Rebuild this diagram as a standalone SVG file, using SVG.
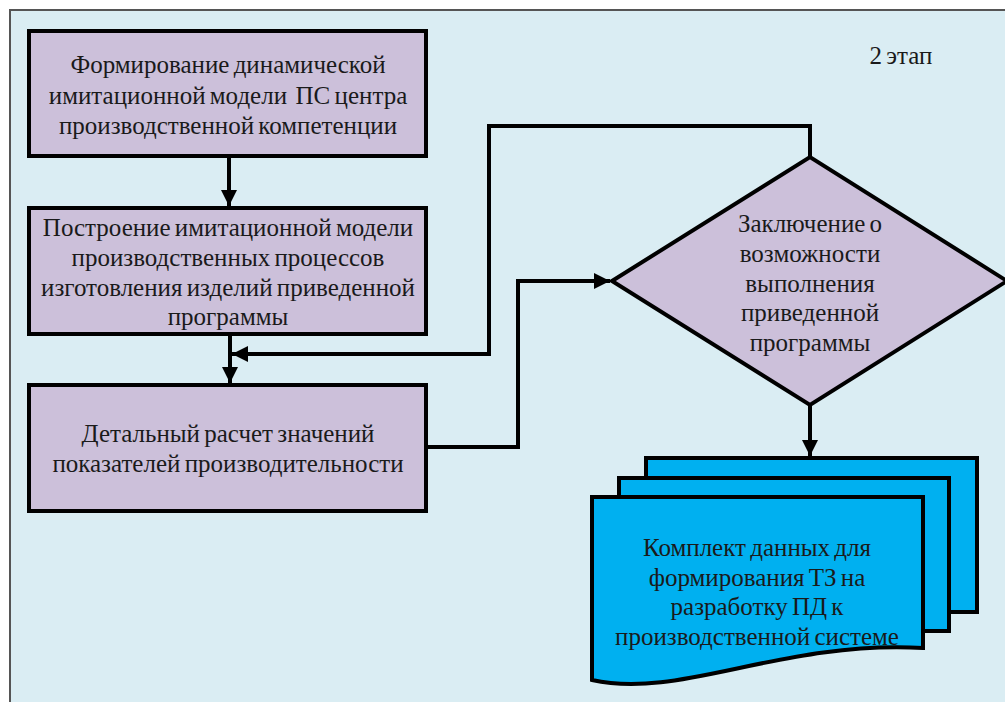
<svg xmlns="http://www.w3.org/2000/svg" width="1005" height="702" viewBox="0 0 1005 702">
<style>
.box{fill:#CCC0DA;stroke:#000;stroke-width:4}
.doc{fill:#00B0F0;stroke:#000;stroke-width:4;stroke-linejoin:miter}
.t{font-family:'Liberation Serif',serif;font-size:25px;fill:#1a1a1a;text-anchor:middle;word-spacing:-2px}
.c{fill:none;stroke:#000;stroke-width:4}
</style>
<defs>
<marker id="ah" viewBox="0 0 10 10" refX="10" refY="5" markerWidth="4" markerHeight="4" orient="auto" markerUnits="strokeWidth">
<path d="M0,0 L10,5 L0,10 z" fill="#000"/>
</marker>
</defs>
<rect x="0" y="0" width="1005" height="702" fill="#fff"/>
<rect x="10" y="10" width="1000" height="700" fill="#DAEDF3" stroke="#555" stroke-width="2"/>
<text class="t" x="901" y="64" font-family="Liberation Serif">2 этап</text>
<g id="connectors">
<path class="c" d="M229,156 V206" marker-end="url(#ah)"/>
<path class="c" d="M230,334 V383" marker-end="url(#ah)"/>
<path class="c" d="M810,157 V126 H489 V354 H232" marker-end="url(#ah)"/>
<path class="c" d="M426,447 H518 V281 H610" marker-end="url(#ah)"/>
<path class="c" d="M810,405 V456" marker-end="url(#ah)"/>
</g>
<g id="n1" font-family="Liberation Serif">
<rect class="box" x="29" y="31" width="397" height="125"/>
<text class="t" x="228" y="73">Формирование динамической</text>
<text class="t" x="228" y="104" xml:space="preserve">имитационной модели  ПС центра</text>
<text class="t" x="228" y="134">производственной компетенции</text>
</g>
<g id="n2" font-family="Liberation Serif">
<rect class="box" x="29" y="208" width="397" height="126"/>
<text class="t" x="228" y="236">Построение имитационной модели</text>
<text class="t" x="228" y="266">производственных процессов</text>
<text class="t" x="228" y="296">изготовления изделий приведенной</text>
<text class="t" x="228" y="325">программы</text>
</g>
<g id="n3" font-family="Liberation Serif">
<rect class="box" x="29" y="385" width="397" height="126"/>
<text class="t" x="228" y="442">Детальный расчет значений</text>
<text class="t" x="228" y="472">показателей производительности</text>
</g>
<g id="n4" font-family="Liberation Serif">
<polygon class="box" points="612,281 810,157 1007,281 810,405"/>
<text class="t" x="810" y="232">Заключение о</text>
<text class="t" x="810" y="262">возможности</text>
<text class="t" x="810" y="292">выполнения</text>
<text class="t" x="810" y="321">приведенной</text>
<text class="t" x="810" y="351">программы</text>
</g>
<g id="n5" font-family="Liberation Serif">
<rect class="doc" x="646" y="458" width="331" height="154"/>
<rect class="doc" x="619" y="478" width="330" height="153"/>
<path class="doc" d="M592,497 H923 V648 C780,640 680,700 592,680 Z"/>
<text class="t" x="757" y="556">Комплект данных для</text>
<text class="t" x="757" y="586">формирования ТЗ на</text>
<text class="t" x="757" y="615">разработку ПД к</text>
<text class="t" x="757" y="645">производственной системе</text>
</g>
</svg>
